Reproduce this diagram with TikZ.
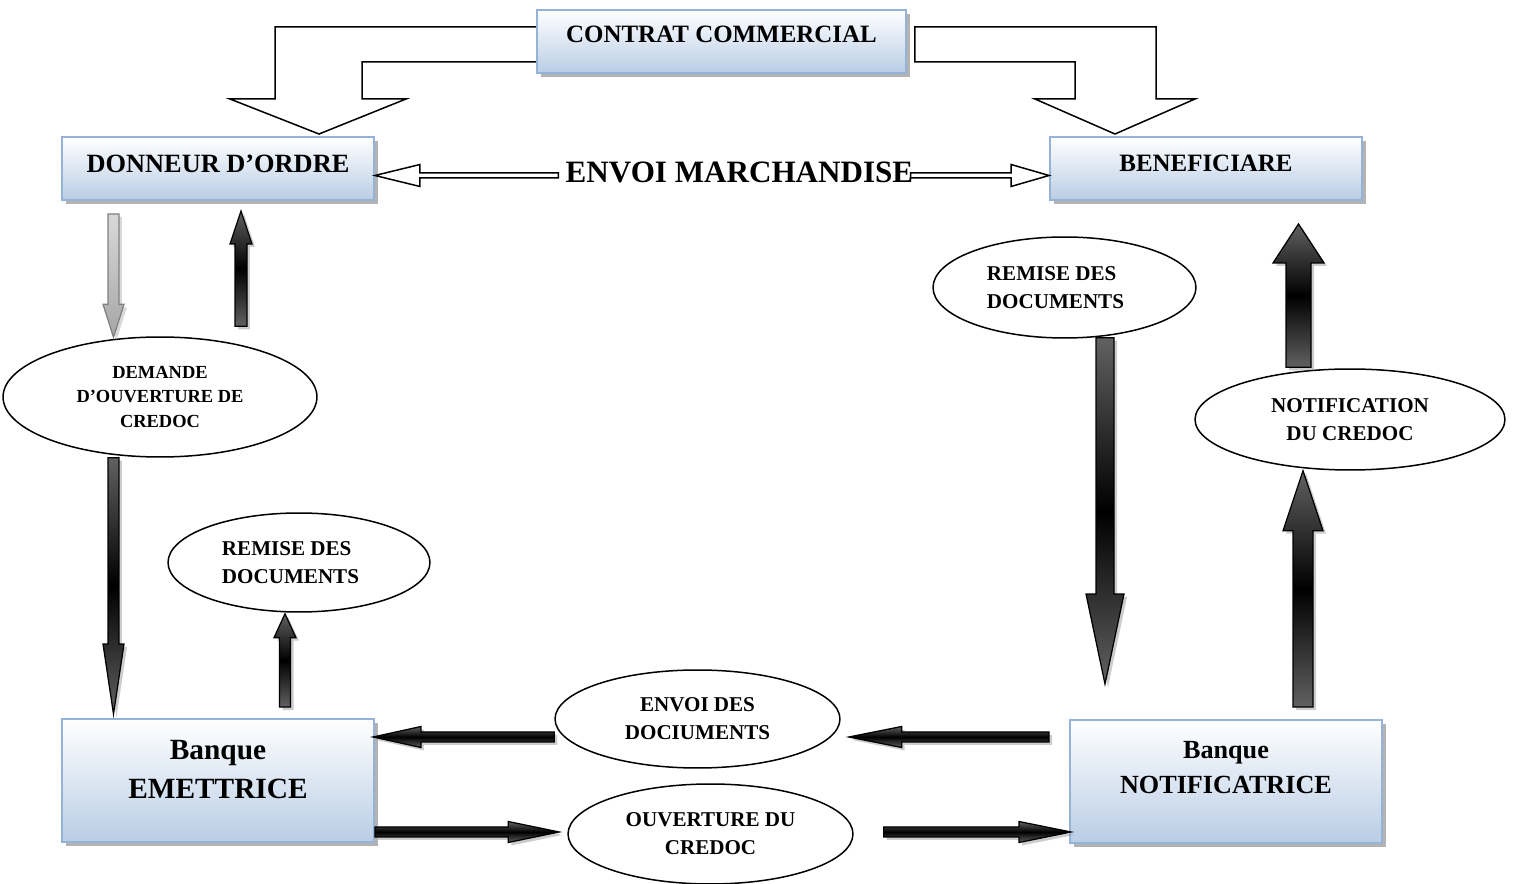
\documentclass[tikz,border=0pt]{standalone}
\usepackage{fontspec}
\setmainfont{Liberation Serif}
\usepackage{xcolor}
\usepackage{tikz}
\usetikzlibrary{positioning, calc, shapes.geometric, shadows, backgrounds}

\definecolor{boxedge}{HTML}{95B3D7}
\definecolor{boxfill}{HTML}{B9CDE5}

% extra depth below the last line (pushes the text up in its box)
\newcommand{\txtdrop}[1]{\rule[-#1]{0pt}{#1}}

% block arrow: [style]{from}{to}{half shaft}{half head}{head length}
\newcommand{\blockarrow}[6][darkarrow]{%
  \coordinate (ba-s) at #2;
  \coordinate (ba-t) at #3;
  \coordinate (ba-b) at ($(ba-t)!#6!(ba-s)$);
  \path[#1] ($(ba-s)!#4!90:(ba-t)$) -- ($(ba-b)!#4!-90:(ba-s)$)
    -- ($(ba-b)!#5!-90:(ba-s)$) -- (ba-t)
    -- ($(ba-b)!#5!90:(ba-s)$) -- ($(ba-b)!#4!90:(ba-s)$)
    -- ($(ba-s)!#4!-90:(ba-t)$) -- cycle;
}

\begin{document}
\begin{tikzpicture}[x=0.02cm, y=-0.02cm,
        partybox/.style={draw=boxedge, line width=0.04cm, rectangle, top color=white, bottom color=boxfill, minimum width=6.24cm, minimum height=1.26cm, inner sep=0pt, align=center, font=\bfseries\fontsize{14.2}{17}\selectfont, drop shadow={shadow xshift=0.08cm, shadow yshift=-0.08cm, opacity=0.6}},
        bankbox/.style={partybox, minimum height=2.46cm},
        stepell/.style={draw, ellipse, line width=0.03cm, fill=white, inner sep=0pt, align=center, font=\bfseries\fontsize{12}{16}\selectfont},
        darkarrow/.style={draw=black, line width=0.025cm, top color=black!62, bottom color=black!62, middle color=black, drop shadow={shadow xshift=0.06cm, shadow yshift=-0.06cm, opacity=0.4}},
        greyarrow/.style={draw=black!50, line width=0.025cm, top color=black!15, bottom color=black!35, drop shadow={shadow xshift=0.06cm, shadow yshift=-0.06cm, opacity=0.3}},
        hollowarrow/.style={draw=black, line width=0.03cm, fill=white}
    ]
    \useasboundingbox (0,0) rectangle (1519,884);

    % ============ PARTIES ============
    \node[partybox, minimum width=7.38cm] (contrat) at (721.5,41.5) {CONTRAT COMMERCIAL\txtdrop{0.28cm}};
    \node[partybox, font=\bfseries\fontsize{15}{18}\selectfont] (donneur) at (218,168.5) {DONNEUR D’ORDRE\txtdrop{0.2cm}};
    \node[partybox] (benef) at (1206,168.5) {BENEFICIARE\txtdrop{0.2cm}};

    \node[font=\bfseries\fontsize{17.7}{20}\selectfont, inner sep=0pt] (envoim) at (739.5,172) {ENVOI MARCHANDISE};

    % ============ BANKS ============
    \node[bankbox, font=\bfseries\fontsize{16.7}{22.2}\selectfont] (emet) at (218,780.5) {Banque\\EMETTRICE\txtdrop{0.46cm}};
    \node[bankbox, font=\bfseries\fontsize{14.9}{19.9}\selectfont] (notifbank) at (1226,781.5) {Banque\\NOTIFICATRICE\txtdrop{0.58cm}};

    % ============ STEPS ============
    \node[stepell, minimum width=6.28cm, minimum height=2.4cm, font=\bfseries\fontsize{10.5}{14}\selectfont] (demande) at (160,397) {DEMANDE\\D’OUVERTURE DE\\CREDOC};
    \node[stepell, align=left, minimum width=5.24cm, minimum height=1.98cm] (remiseg) at (299,562.5) {REMISE DES\\DOCUMENTS\hspace*{0.34cm}};
    \node[stepell, align=left, minimum width=5.26cm, minimum height=2.02cm] (remised) at (1064.5,287.5) {REMISE DES\\DOCUMENTS\hspace*{0.36cm}};
    \node[stepell, minimum width=6.2cm, minimum height=2.02cm] (notif) at (1350,419.5) {NOTIFICATION\\DU CREDOC};
    \node[stepell, minimum width=5.7cm, minimum height=1.96cm] (envoi) at (697.5,719) {ENVOI DES\\DOCIUMENTS};
    \node[stepell, minimum width=5.7cm, minimum height=2cm] (ouverture) at (710.5,834) {OUVERTURE DU\\CREDOC};

    % ============ CONTRACT ARROWS ============
    \coordinate (ctipl) at ($(donneur.north)+(101,-2)$);
    \coordinate (ctipr) at ($(benef.north)+(-91,-2)$);
    \begin{scope}[on background layer]
        \draw[hollowarrow] ($(contrat.west)+(30,-14.5)$) -| ($(ctipl)+(-44,-35)$) -- ++(-45,0) -- (ctipl)
            -- ++(87,-35) -- ++(-44,0) |- ($(contrat.west)+(30,20.5)$) -- cycle;
    \end{scope}
    \draw[hollowarrow] ($(contrat.east)+(8,-14.5)$) -| ($(ctipr)+(41,-35)$) -- ++(39,0) -- (ctipr)
        -- ++(-80,-35) -- ++(40,0) |- ($(contrat.east)+(8,20.5)$) -- cycle;

    % goods
    \blockarrow[hollowarrow]{($(envoim.west)+(-7,3.5)$)}{($(donneur.east)+(0,7)$)}{0.05cm}{0.22cm}{0.9cm}
    \blockarrow[hollowarrow]{($(envoim.east)+(-3,3.5)$)}{($(benef.west)+(0,7)$)}{0.05cm}{0.22cm}{0.76cm}

    % ============ FLOW ARROWS ============
    \blockarrow[greyarrow]{($(donneur.south)+(-104.5,13)$)}{($(demande.north)+(-46.5,1)$)}{0.11cm}{0.21cm}{0.66cm}
    \blockarrow{($(demande.north)+(81,-10)$)}{($(donneur.south)+(23,10)$)}{0.12cm}{0.22cm}{0.66cm}
    \blockarrow{($(demande.south)+(-46.5,0)$)}{($(emet.north)+(-104.5,-4)$)}{0.11cm}{0.21cm}{1.4cm}
    \blockarrow{($(emet.north)+(67,-11)$)}{($(remiseg.south)+(-14,1)$)}{0.11cm}{0.22cm}{0.48cm}

    \blockarrow{($(remised.south)+(40.5,-1)$)}{($(notifbank.north)+(-121,-35)$)}{0.18cm}{0.38cm}{1.8cm}
    \blockarrow{($(notifbank.north)+(77,-12)$)}{($(notif.south)+(-47,0)$)}{0.2cm}{0.4cm}{1.2cm}
    \blockarrow{($(notif.north)+(-51.5,-1)$)}{($(benef.south)+(92.5,23)$)}{0.25cm}{0.51cm}{0.78cm}

    \blockarrow{($(envoi.west)+(0,18)$)}{($(emet.east)+(-2,-43.5)$)}{0.1cm}{0.21cm}{0.96cm}
    \blockarrow{($(notifbank.west)+(-20,-44.5)$)}{($(envoi.east)+(8,18)$)}{0.1cm}{0.21cm}{1.06cm}
    \blockarrow{($(emet.east)+(0,51.5)$)}{($(ouverture.west)+(-8,-2)$)}{0.1cm}{0.21cm}{1.02cm}
    \blockarrow{($(ouverture.east)+(30,-2)$)}{($(notifbank.west)+(2,50.5)$)}{0.1cm}{0.21cm}{1.04cm}

\end{tikzpicture}
\end{document}
